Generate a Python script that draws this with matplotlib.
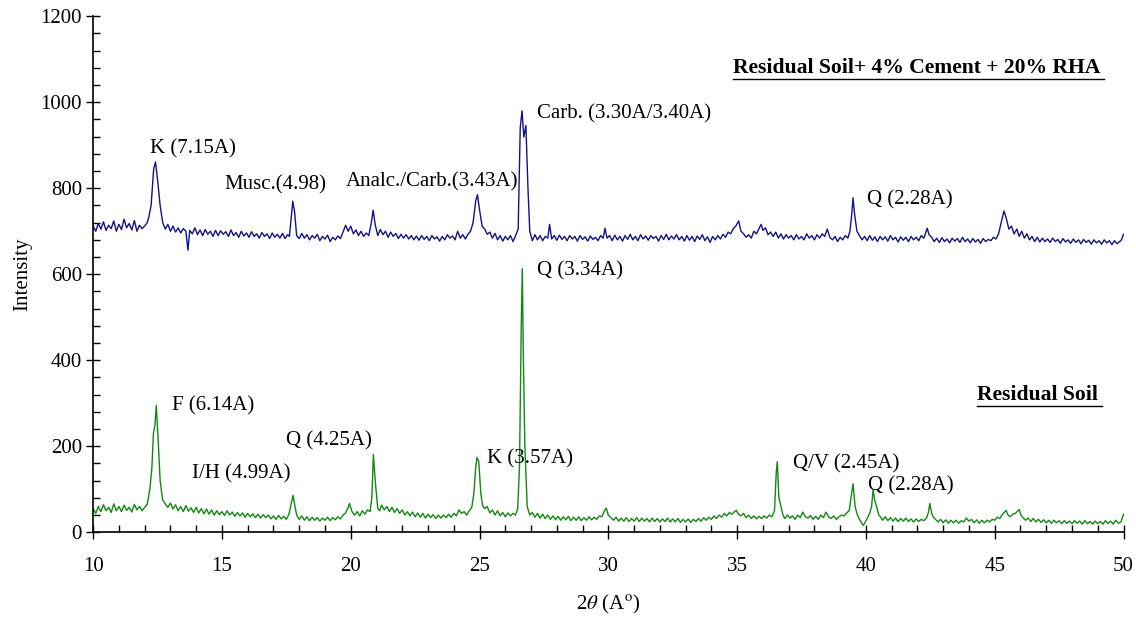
import numpy as np
import matplotlib
matplotlib.use("Agg")
import matplotlib.pyplot as plt
from matplotlib.ticker import MultipleLocator

plt.rcParams['font.family'] = ['Liberation Serif', 'DejaVu Serif']
plt.rcParams['mathtext.fontset'] = 'stix'

# (2theta, intensity): soil + 4% cement + 20% RHA (blue)
cem = [(10.0, 712), (10.1, 700), (10.2, 718), (10.3, 705), (10.4, 722), (10.5, 702), (10.6, 714), (10.7, 706),
       (10.8, 724), (10.9, 700), (11.0, 716), (11.1, 704), (11.2, 728), (11.3, 708), (11.4, 718), (11.5, 703),
       (11.6, 725), (11.7, 700), (11.8, 714), (11.9, 706), (12.0, 712), (12.1, 720), (12.15, 730), (12.25, 760),
       (12.35, 845), (12.42, 861), (12.5, 820), (12.6, 760), (12.7, 720), (12.8, 705), (12.9, 716), (13.0, 700),
       (13.1, 712), (13.2, 698), (13.3, 708), (13.4, 696), (13.5, 706), (13.6, 700), (13.68, 656), (13.75, 702),
       (13.85, 694), (13.95, 708), (14.05, 692), (14.15, 703), (14.25, 690), (14.35, 704), (14.45, 693), (14.55, 700),
       (14.65, 688), (14.75, 702), (14.85, 690), (14.95, 701), (15.05, 693), (15.15, 699), (15.25, 688), (15.35, 703),
       (15.45, 690), (15.55, 697), (15.65, 686), (15.75, 700), (15.85, 689), (15.95, 696), (16.05, 686), (16.15, 699),
       (16.25, 688), (16.35, 694), (16.45, 684), (16.55, 697), (16.65, 688), (16.75, 694), (16.85, 683), (16.95, 696),
       (17.05, 686), (17.15, 693), (17.25, 684), (17.35, 695), (17.45, 683), (17.55, 692), (17.62, 688), (17.7, 740),
       (17.75, 770), (17.82, 745), (17.9, 690), (18.0, 683), (18.1, 695), (18.2, 684), (18.3, 692), (18.4, 680),
       (18.5, 690), (18.6, 684), (18.7, 693), (18.8, 678), (18.9, 688), (19.0, 682), (19.1, 691), (19.2, 676),
       (19.3, 686), (19.4, 680), (19.5, 689), (19.6, 683), (19.7, 698), (19.8, 714), (19.9, 700), (20.0, 712),
       (20.1, 694), (20.2, 703), (20.3, 690), (20.4, 700), (20.5, 688), (20.6, 696), (20.7, 690), (20.8, 720),
       (20.87, 749), (20.95, 715), (21.05, 690), (21.15, 704), (21.25, 692), (21.35, 700), (21.45, 686), (21.55, 698),
       (21.65, 688), (21.75, 695), (21.85, 683), (21.95, 693), (22.05, 684), (22.15, 692), (22.25, 682), (22.35, 690),
       (22.45, 680), (22.55, 689), (22.65, 679), (22.75, 690), (22.85, 681), (22.95, 688), (23.05, 678), (23.15, 690),
       (23.25, 682), (23.35, 687), (23.45, 677), (23.55, 688), (23.65, 680), (23.75, 692), (23.85, 684), (23.95, 689),
       (24.05, 680), (24.15, 700), (24.25, 684), (24.35, 692), (24.45, 682), (24.55, 693), (24.65, 700), (24.75, 720),
       (24.85, 770), (24.92, 785), (25.0, 750), (25.1, 712), (25.2, 705), (25.3, 693), (25.4, 698), (25.5, 684),
       (25.6, 695), (25.7, 680), (25.8, 690), (25.9, 677), (26.0, 688), (26.1, 680), (26.2, 690), (26.3, 676),
       (26.4, 690), (26.5, 705), (26.58, 940), (26.65, 980), (26.72, 919), (26.8, 946), (26.88, 800), (26.95, 700),
       (27.05, 678), (27.15, 692), (27.25, 680), (27.35, 690), (27.45, 678), (27.55, 688), (27.65, 684), (27.72, 716),
       (27.8, 682), (27.9, 690), (28.0, 679), (28.1, 691), (28.2, 681), (28.3, 688), (28.4, 678), (28.5, 690),
       (28.6, 682), (28.7, 688), (28.8, 677), (28.9, 690), (29.0, 681), (29.1, 687), (29.2, 677), (29.3, 689),
       (29.4, 681), (29.5, 686), (29.6, 678), (29.7, 690), (29.8, 684), (29.87, 707), (29.95, 684), (30.05, 690),
       (30.15, 678), (30.25, 691), (30.35, 680), (30.45, 688), (30.55, 677), (30.65, 690), (30.75, 681), (30.85, 693),
       (30.95, 680), (31.05, 688), (31.15, 678), (31.25, 692), (31.35, 682), (31.45, 689), (31.55, 679), (31.65, 690),
       (31.75, 683), (31.85, 688), (31.95, 677), (32.05, 690), (32.15, 681), (32.25, 693), (32.35, 680), (32.45, 689),
       (32.55, 682), (32.65, 692), (32.75, 680), (32.85, 688), (32.95, 677), (33.05, 690), (33.15, 679), (33.25, 688),
       (33.35, 676), (33.45, 689), (33.55, 681), (33.65, 692), (33.75, 678), (33.85, 687), (33.95, 674), (34.05, 688),
       (34.15, 680), (34.25, 690), (34.35, 682), (34.45, 693), (34.55, 686), (34.65, 698), (34.75, 694), (34.85, 706),
       (34.95, 712), (35.06, 724), (35.15, 700), (35.25, 694), (35.35, 686), (35.45, 692), (35.55, 684), (35.65, 700),
       (35.75, 694), (35.85, 706), (35.93, 716), (36.0, 702), (36.1, 708), (36.2, 692), (36.3, 698), (36.4, 688),
       (36.5, 698), (36.6, 684), (36.7, 694), (36.8, 682), (36.9, 692), (37.0, 684), (37.1, 690), (37.2, 680),
       (37.3, 692), (37.4, 682), (37.5, 688), (37.6, 680), (37.7, 694), (37.8, 684), (37.9, 690), (38.0, 680),
       (38.1, 692), (38.2, 684), (38.3, 694), (38.4, 688), (38.5, 705), (38.6, 686), (38.7, 680), (38.8, 688),
       (38.9, 676), (39.0, 686), (39.1, 680), (39.2, 690), (39.3, 684), (39.38, 700), (39.45, 740), (39.5, 778),
       (39.56, 740), (39.65, 700), (39.75, 690), (39.85, 680), (39.95, 688), (40.05, 678), (40.15, 690), (40.25, 679),
       (40.35, 687), (40.45, 676), (40.55, 688), (40.65, 680), (40.75, 687), (40.85, 677), (40.95, 690), (41.05, 680),
       (41.15, 686), (41.25, 675), (41.35, 687), (41.45, 679), (41.55, 686), (41.65, 676), (41.75, 688), (41.85, 680),
       (41.95, 686), (42.05, 678), (42.15, 690), (42.25, 684), (42.32, 696), (42.38, 707), (42.45, 692), (42.55, 686),
       (42.65, 676), (42.75, 684), (42.85, 674), (42.95, 685), (43.05, 676), (43.15, 682), (43.25, 673), (43.35, 684),
       (43.45, 677), (43.55, 683), (43.65, 674), (43.75, 686), (43.85, 676), (43.95, 682), (44.05, 673), (44.15, 683),
       (44.25, 675), (44.35, 681), (44.45, 672), (44.55, 683), (44.65, 676), (44.75, 681), (44.85, 678), (44.95, 686),
       (45.05, 682), (45.15, 694), (45.25, 720), (45.36, 747), (45.45, 730), (45.55, 705), (45.65, 712), (45.75, 694),
       (45.86, 705), (45.95, 688), (46.05, 700), (46.15, 684), (46.25, 694), (46.35, 680), (46.45, 688), (46.55, 676),
       (46.65, 686), (46.75, 675), (46.85, 684), (46.95, 676), (47.05, 682), (47.15, 674), (47.25, 684), (47.35, 676),
       (47.45, 681), (47.55, 672), (47.65, 683), (47.75, 675), (47.85, 680), (47.95, 672), (48.05, 682), (48.15, 674),
       (48.25, 680), (48.35, 671), (48.45, 681), (48.55, 674), (48.65, 679), (48.75, 670), (48.85, 680), (48.95, 673),
       (49.05, 678), (49.15, 670), (49.25, 680), (49.35, 673), (49.45, 678), (49.55, 669), (49.65, 678), (49.75, 671),
       (49.85, 676), (49.92, 680), (50.0, 693)]

# residual soil (green)
soil = [(10.0, 55), (10.1, 44), (10.2, 60), (10.3, 48), (10.4, 64), (10.5, 50), (10.6, 58), (10.7, 46),
        (10.8, 66), (10.9, 50), (11.0, 60), (11.1, 48), (11.2, 63), (11.3, 51), (11.4, 58), (11.5, 47),
        (11.6, 65), (11.7, 52), (11.8, 60), (11.9, 50), (12.0, 58), (12.1, 65), (12.2, 100), (12.28, 150),
        (12.34, 230), (12.4, 250), (12.45, 295), (12.52, 220), (12.6, 120), (12.7, 75), (12.8, 66), (12.9, 58),
        (13.0, 68), (13.1, 54), (13.2, 64), (13.3, 50), (13.4, 60), (13.5, 48), (13.6, 62), (13.7, 49),
        (13.8, 57), (13.9, 46), (14.0, 58), (14.1, 45), (14.2, 55), (14.3, 43), (14.4, 54), (14.5, 42),
        (14.6, 52), (14.7, 40), (14.8, 50), (14.9, 41), (15.0, 48), (15.1, 39), (15.2, 50), (15.3, 40),
        (15.4, 47), (15.5, 37), (15.6, 46), (15.7, 38), (15.8, 45), (15.9, 35), (16.0, 44), (16.1, 36),
        (16.2, 43), (16.3, 34), (16.4, 42), (16.5, 33), (16.6, 41), (16.7, 34), (16.8, 40), (16.9, 31),
        (17.0, 38), (17.1, 30), (17.2, 39), (17.3, 31), (17.4, 37), (17.5, 30), (17.6, 42), (17.7, 70),
        (17.76, 86), (17.82, 65), (17.9, 40), (18.0, 30), (18.1, 38), (18.2, 28), (18.3, 36), (18.4, 27),
        (18.5, 35), (18.6, 28), (18.7, 34), (18.8, 26), (18.9, 33), (19.0, 28), (19.1, 35), (19.2, 27),
        (19.3, 34), (19.4, 29), (19.5, 36), (19.6, 31), (19.7, 40), (19.8, 45), (19.9, 58), (19.95, 67),
        (20.05, 48), (20.15, 40), (20.25, 48), (20.35, 38), (20.45, 50), (20.55, 42), (20.65, 52), (20.75, 48),
        (20.82, 80), (20.88, 181), (20.95, 120), (21.05, 55), (21.12, 50), (21.2, 63), (21.3, 52), (21.4, 60),
        (21.5, 48), (21.6, 58), (21.7, 46), (21.8, 55), (21.9, 44), (22.0, 52), (22.1, 40), (22.2, 48),
        (22.3, 38), (22.4, 47), (22.5, 36), (22.6, 45), (22.7, 35), (22.8, 44), (22.9, 33), (23.0, 42),
        (23.1, 34), (23.2, 41), (23.3, 32), (23.4, 40), (23.5, 33), (23.6, 40), (23.7, 34), (23.8, 42),
        (23.9, 35), (24.0, 44), (24.1, 38), (24.2, 52), (24.3, 44), (24.4, 48), (24.5, 40), (24.6, 50),
        (24.7, 58), (24.78, 90), (24.85, 150), (24.9, 174), (24.97, 165), (25.05, 90), (25.12, 62), (25.2, 55),
        (25.3, 60), (25.4, 45), (25.5, 52), (25.6, 40), (25.7, 50), (25.8, 38), (25.9, 46), (26.0, 36),
        (26.1, 45), (26.2, 38), (26.3, 44), (26.4, 40), (26.48, 55), (26.55, 150), (26.62, 480), (26.66, 613),
        (26.7, 411), (26.76, 200), (26.85, 60), (26.95, 40), (27.05, 46), (27.15, 35), (27.25, 44), (27.35, 33),
        (27.45, 42), (27.55, 32), (27.65, 40), (27.75, 30), (27.85, 38), (27.95, 29), (28.05, 37), (28.15, 28),
        (28.25, 36), (28.35, 29), (28.45, 37), (28.55, 27), (28.65, 35), (28.75, 28), (28.85, 36), (28.95, 27),
        (29.05, 34), (29.15, 28), (29.25, 36), (29.35, 29), (29.45, 35), (29.55, 30), (29.65, 38), (29.75, 36),
        (29.85, 50), (29.92, 56), (30.0, 40), (30.1, 34), (30.2, 28), (30.3, 35), (30.4, 26), (30.5, 33),
        (30.6, 26), (30.7, 34), (30.8, 25), (30.9, 32), (31.0, 26), (31.1, 34), (31.2, 25), (31.3, 33),
        (31.4, 26), (31.5, 32), (31.6, 24), (31.7, 33), (31.8, 25), (31.9, 32), (32.0, 24), (32.1, 31),
        (32.2, 25), (32.3, 33), (32.4, 24), (32.5, 31), (32.6, 24), (32.7, 32), (32.8, 23), (32.9, 30),
        (33.0, 24), (33.1, 31), (33.2, 23), (33.3, 30), (33.4, 25), (33.5, 32), (33.6, 26), (33.7, 34),
        (33.8, 28), (33.9, 35), (34.0, 30), (34.1, 38), (34.2, 32), (34.3, 40), (34.4, 35), (34.5, 44),
        (34.6, 38), (34.7, 46), (34.8, 42), (34.9, 48), (34.97, 51), (35.05, 42), (35.15, 38), (35.25, 44),
        (35.35, 34), (35.45, 40), (35.55, 32), (35.65, 38), (35.75, 31), (35.85, 37), (35.95, 32), (36.05, 38),
        (36.15, 33), (36.25, 40), (36.35, 36), (36.45, 50), (36.52, 140), (36.56, 164), (36.62, 82), (36.7, 60),
        (36.78, 40), (36.85, 32), (36.95, 40), (37.05, 33), (37.15, 38), (37.25, 30), (37.35, 40), (37.45, 34),
        (37.55, 47), (37.65, 36), (37.75, 33), (37.85, 39), (37.95, 30), (38.05, 37), (38.15, 30), (38.25, 40),
        (38.35, 34), (38.45, 47), (38.55, 36), (38.65, 32), (38.75, 38), (38.85, 30), (38.95, 36), (39.05, 40),
        (39.15, 38), (39.25, 45), (39.35, 50), (39.42, 80), (39.5, 113), (39.58, 60), (39.67, 40), (39.75, 30),
        (39.85, 20), (39.9, 16), (39.98, 24), (40.05, 32), (40.15, 45), (40.22, 60), (40.28, 99), (40.34, 75),
        (40.42, 59), (40.5, 40), (40.58, 35), (40.65, 28), (40.75, 36), (40.85, 27), (40.95, 34), (41.05, 26),
        (41.15, 33), (41.25, 25), (41.35, 32), (41.45, 26), (41.55, 33), (41.65, 25), (41.75, 31), (41.85, 24),
        (41.95, 31), (42.05, 25), (42.15, 30), (42.25, 27), (42.35, 33), (42.42, 45), (42.48, 67), (42.55, 45),
        (42.62, 35), (42.7, 30), (42.8, 24), (42.9, 30), (43.0, 22), (43.1, 29), (43.2, 21), (43.3, 28),
        (43.4, 22), (43.5, 28), (43.6, 21), (43.7, 27), (43.8, 24), (43.9, 33), (44.0, 26), (44.1, 30),
        (44.2, 22), (44.3, 29), (44.4, 21), (44.5, 28), (44.6, 22), (44.7, 28), (44.8, 24), (44.9, 30),
        (45.0, 28), (45.1, 35), (45.2, 32), (45.3, 42), (45.37, 46), (45.44, 51), (45.52, 40), (45.6, 36),
        (45.7, 42), (45.8, 44), (45.87, 48), (45.95, 53), (46.02, 40), (46.1, 34), (46.2, 28), (46.3, 33),
        (46.4, 25), (46.5, 32), (46.6, 24), (46.7, 30), (46.8, 23), (46.9, 29), (47.0, 22), (47.1, 28),
        (47.2, 21), (47.3, 28), (47.4, 22), (47.5, 27), (47.6, 20), (47.7, 27), (47.8, 21), (47.9, 26),
        (48.0, 20), (48.1, 27), (48.2, 21), (48.3, 26), (48.4, 19), (48.5, 27), (48.6, 20), (48.7, 25),
        (48.8, 19), (48.9, 26), (49.0, 20), (49.1, 25), (49.2, 19), (49.3, 27), (49.4, 20), (49.5, 26),
        (49.6, 19), (49.7, 28), (49.8, 21), (49.9, 24), (50.0, 42)]

cem_2t = [p[0] for p in cem]
cem_int = [p[1] for p in cem]
soil_2t = [p[0] for p in soil]
soil_int = [p[1] for p in soil]

# peak labels (text, x, y)
cem_labels = [("K (7.15A)", 12.2, 891), ("Musc.(4.98)", 15.1, 809),
              ("Analc./Carb.(3.43A)", 19.8, 814), ("Carb. (3.30A/3.40A)", 27.25, 974),
              ("Q (2.28A)", 40.05, 774)]
soil_labels = [("Q (3.34A)", 27.25, 609), ("F (6.14A)", 13.05, 293),
               ("Q (4.25A)", 17.5, 212), ("I/H (4.99A)", 13.85, 135),
               ("K (3.57A)", 25.3, 170), ("Q/V (2.45A)", 37.15, 160),
               ("Q (2.28A)", 40.1, 109)]

blue = '#12128a'
green = '#0f8a0f'

fig = plt.figure(figsize=(11.36, 6.24), dpi=100)
ax = fig.add_axes([0.082, 0.147, 0.907, 0.827])

ax.plot(cem_2t, cem_int, color=blue, lw=1.0)
ax.plot(soil_2t, soil_int, color=green, lw=1.0)

for t, x, y in cem_labels + soil_labels:
    ax.text(x, y, t, fontsize=15, va='center', ha='left')

titles = [("Residual Soil+ 4% Cement + 20% RHA", 49.1, 1079), ("Residual Soil", 49.0, 319)]
title_objs = []
for t, x, y in titles:
    title_objs.append(ax.text(x, y, t, fontsize=15.6, fontweight='bold', va='center', ha='right'))

ax.set_xlim(10, 50)
ax.set_ylim(0, 1200)
ax.xaxis.set_major_locator(MultipleLocator(5))
ax.xaxis.set_minor_locator(MultipleLocator(1))
ax.yaxis.set_major_locator(MultipleLocator(200))
ax.yaxis.set_minor_locator(MultipleLocator(40))
ax.tick_params(which='major', direction='inout', length=10, width=1, labelsize=15)
ax.tick_params(which='minor', direction='in', length=5, width=1)
ax.tick_params(axis='x', which='major', pad=13)
ax.tick_params(axis='y', which='major', pad=3)
for s in ['top', 'right']:
    ax.spines[s].set_visible(False)
ax.spines['left'].set_linewidth(1.2)
ax.spines['bottom'].set_linewidth(1.2)

ax.set_ylabel("Intensity", fontsize=15, labelpad=6)
ax.set_xlabel(r"2$\theta$ (A$^{\mathrm{o}}$)", fontsize=15, labelpad=12)

# underline the two series titles
fig.canvas.draw()
inv = ax.transData.inverted()
for tobj in title_objs:
    bb = tobj.get_window_extent()
    (x0, y0) = inv.transform((bb.x0, bb.y0 - 1))
    (x1, _) = inv.transform((bb.x1 + 4, bb.y0 - 1))
    ax.plot([x0, x1], [y0, y0], color='black', lw=1.0)

fig.savefig("out.png", dpi=100)
